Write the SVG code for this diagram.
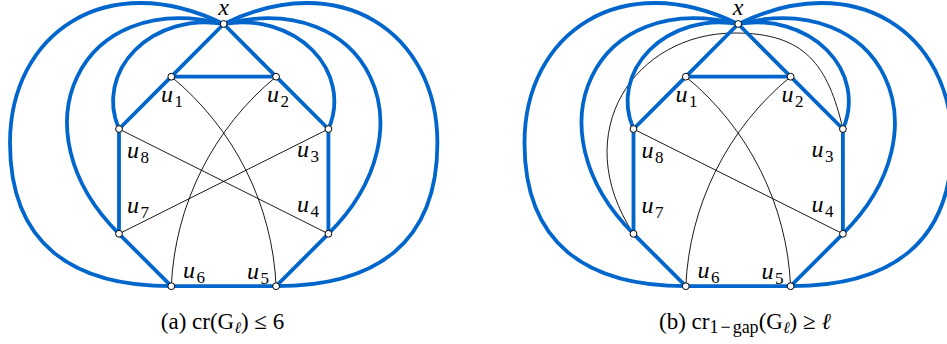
<svg xmlns="http://www.w3.org/2000/svg" width="947" height="344" viewBox="0 0 947 344">
<style>
.blue{fill:none;stroke:#0066cc;stroke-width:3.8;stroke-linecap:round;stroke-linejoin:round}
.thin{fill:none;stroke:#000;stroke-width:0.9}
.node{fill:#fff;stroke:#000;stroke-width:1}
.lbl{font-family:"Liberation Serif",serif;font-style:italic;font-size:24px;fill:#000}
.sub{font-style:normal;font-size:17px}
.cap{font-family:"Liberation Serif",serif;font-size:23px;fill:#000}
.csub{font-size:16px}
.bsub{font-size:18px}
.it{font-style:italic}
</style>
<rect width="947" height="344" fill="#fff"/>

<!-- Diagram (a) -->
<g id="a-connectors">
  <path class="thin" d="M171.3,76.7 A288,288 0 0 1 276.1,286.2"/>
  <path class="thin" d="M276.1,76.7 A288,288 0 0 0 171.3,286.2"/>
  <path class="thin" d="M119,129 L328.4,233.8"/>
  <path class="thin" d="M119,233.8 L328.4,129"/>
  <path class="blue" d="M223.7,24 A92,78.8 0 0 0 119,129"/>
  <path class="blue" d="M223.7,24 A92,78.8 0 0 1 328.4,129"/>
  <path class="blue" d="M223.7,24 C78,-12 14,130 119,233.8"/>
  <path class="blue" d="M223.7,24 C369.4,-12 433.4,130 328.4,233.8"/>
  <path class="blue" d="M223.7,24 C106.7,-33.2 10,33 10,143 C10,243 71.3,286.2 171.3,286.2"/>
  <path class="blue" d="M223.7,24 C340.7,-33.2 437.4,33 437.4,143 C437.4,243 376.1,286.2 276.1,286.2"/>
  <path class="blue" d="M223.7,24 L171.3,76.7 L276.1,76.7 L223.7,24"/>
  <path class="blue" d="M171.3,76.7 L119,129 L119,233.8 L171.3,286.2 L276.1,286.2 L328.4,233.8 L328.4,129 L276.1,76.7"/>
</g>
<g id="a-x"><circle class="node" cx="223.7" cy="24" r="3.4"/><text class="lbl" x="223.7" y="15" text-anchor="middle">x</text></g>
<g id="a-u1"><circle class="node" cx="171.3" cy="76.7" r="3.4"/><text class="lbl" x="161" y="102">u<tspan class="sub" dx="1.5" dy="5">1</tspan></text></g>
<g id="a-u2"><circle class="node" cx="276.1" cy="76.7" r="3.4"/><text class="lbl" x="267" y="102">u<tspan class="sub" dx="1.5" dy="5">2</tspan></text></g>
<g id="a-u3"><circle class="node" cx="328.4" cy="129" r="3.4"/><text class="lbl" x="297" y="157">u<tspan class="sub" dx="1.5" dy="5">3</tspan></text></g>
<g id="a-u4"><circle class="node" cx="328.4" cy="233.8" r="3.4"/><text class="lbl" x="297" y="212">u<tspan class="sub" dx="1.5" dy="5">4</tspan></text></g>
<g id="a-u5"><circle class="node" cx="276.1" cy="286.2" r="3.4"/><text class="lbl" x="247" y="279">u<tspan class="sub" dx="1.5" dy="5">5</tspan></text></g>
<g id="a-u6"><circle class="node" cx="171.3" cy="286.2" r="3.4"/><text class="lbl" x="183" y="278">u<tspan class="sub" dx="1.5" dy="5">6</tspan></text></g>
<g id="a-u7"><circle class="node" cx="119" cy="233.8" r="3.4"/><text class="lbl" x="127" y="213">u<tspan class="sub" dx="1.5" dy="5">7</tspan></text></g>
<g id="a-u8"><circle class="node" cx="119" cy="129" r="3.4"/><text class="lbl" x="127" y="158">u<tspan class="sub" dx="1.5" dy="5">8</tspan></text></g>
<text id="cap-a" class="cap" x="222.5" y="329" text-anchor="middle">(a) cr(G<tspan class="csub it" dy="4">ℓ</tspan><tspan dy="-4">) ≤ 6</tspan></text>

<!-- Diagram (b) -->
<g id="b-connectors">
  <path class="thin" d="M685.8,76.7 A288,288 0 0 1 790.6,286.2"/>
  <path class="thin" d="M790.6,76.7 A288,288 0 0 0 685.8,286.2"/>
  <path class="thin" d="M633.5,129 L842.9,233.8"/>
  <path class="thin" d="M633.5,233.8 C567,132 635,33 735,33 C805,33 828,65 842.9,129"/>
  <path class="blue" d="M738.2,24 A92,78.8 0 0 0 633.5,129"/>
  <path class="blue" d="M738.2,24 A92,78.8 0 0 1 842.9,129"/>
  <path class="blue" d="M738.2,24 C592.5,-12 528.5,130 633.5,233.8"/>
  <path class="blue" d="M738.2,24 C883.9,-12 947.9,130 842.9,233.8"/>
  <path class="blue" d="M738.2,24 C621.2,-33.2 524.5,33 524.5,143 C524.5,243 585.8,286.2 685.8,286.2"/>
  <path class="blue" d="M738.2,24 C855.2,-33.2 951.9,33 951.9,143 C951.9,243 890.6,286.2 790.6,286.2"/>
  <path class="blue" d="M738.2,24 L685.8,76.7 L790.6,76.7 L738.2,24"/>
  <path class="blue" d="M685.8,76.7 L633.5,129 L633.5,233.8 L685.8,286.2 L790.6,286.2 L842.9,233.8 L842.9,129 L790.6,76.7"/>
</g>
<g id="b-x"><circle class="node" cx="738.2" cy="24" r="3.4"/><text class="lbl" x="738.2" y="15" text-anchor="middle">x</text></g>
<g id="b-u1"><circle class="node" cx="685.8" cy="76.7" r="3.4"/><text class="lbl" x="675.5" y="102">u<tspan class="sub" dx="1.5" dy="5">1</tspan></text></g>
<g id="b-u2"><circle class="node" cx="790.6" cy="76.7" r="3.4"/><text class="lbl" x="781.5" y="102">u<tspan class="sub" dx="1.5" dy="5">2</tspan></text></g>
<g id="b-u3"><circle class="node" cx="842.9" cy="129" r="3.4"/><text class="lbl" x="811.5" y="157">u<tspan class="sub" dx="1.5" dy="5">3</tspan></text></g>
<g id="b-u4"><circle class="node" cx="842.9" cy="233.8" r="3.4"/><text class="lbl" x="811.5" y="212">u<tspan class="sub" dx="1.5" dy="5">4</tspan></text></g>
<g id="b-u5"><circle class="node" cx="790.6" cy="286.2" r="3.4"/><text class="lbl" x="761.5" y="279">u<tspan class="sub" dx="1.5" dy="5">5</tspan></text></g>
<g id="b-u6"><circle class="node" cx="685.8" cy="286.2" r="3.4"/><text class="lbl" x="697.5" y="278">u<tspan class="sub" dx="1.5" dy="5">6</tspan></text></g>
<g id="b-u7"><circle class="node" cx="633.5" cy="233.8" r="3.4"/><text class="lbl" x="641.5" y="213">u<tspan class="sub" dx="1.5" dy="5">7</tspan></text></g>
<g id="b-u8"><circle class="node" cx="633.5" cy="129" r="3.4"/><text class="lbl" x="641.5" y="158">u<tspan class="sub" dx="1.5" dy="5">8</tspan></text></g>
<text id="cap-b" class="cap" x="745" y="329" text-anchor="middle">(b) cr<tspan class="bsub" dy="4">1</tspan><tspan class="bsub" dx="2">−</tspan><tspan class="bsub" dx="2">gap</tspan><tspan dy="-4">(G</tspan><tspan class="csub it" dy="4">ℓ</tspan><tspan dy="-4">) ≥ </tspan><tspan class="it">ℓ</tspan></text>
</svg>
